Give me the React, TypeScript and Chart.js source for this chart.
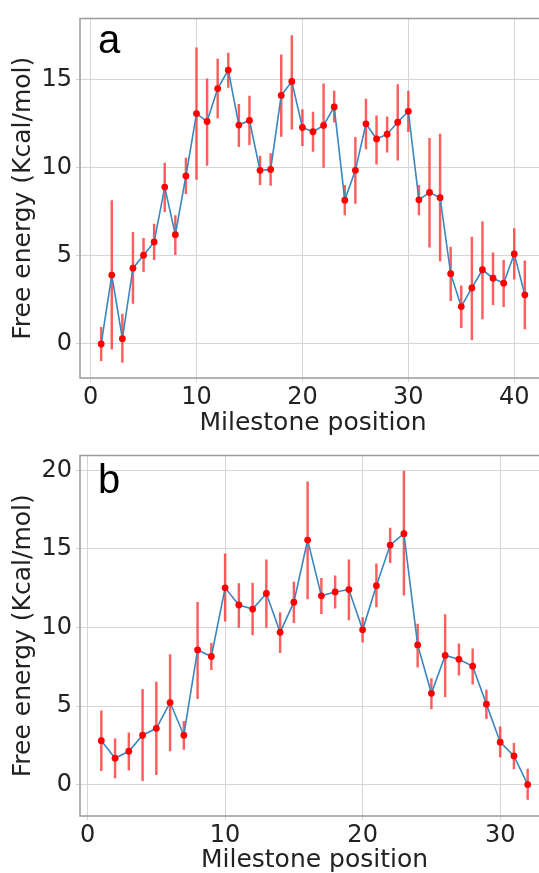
import React, { useEffect, useRef } from "react";
import { Chart, registerables } from "chart.js";

Chart.register(...registerables);

// Panel a
const milestonesA = [1,2,3,4,5,6,7,8,9,10,11,12,13,14,15,16,17,18,19,20,21,22,23,24,25,26,27,28,29,30,31,32,33,34,35,36,37,38,39,40,41];
const energyA = [0,3.91,0.3,4.3,5.04,5.79,8.9,6.2,9.53,13.07,12.62,14.49,15.54,12.42,12.68,9.85,9.9,14.1,14.89,12.28,12.04,12.4,13.45,8.16,9.85,12.49,11.63,11.9,12.58,13.2,8.18,8.6,8.3,3.99,2.12,3.18,4.21,3.73,3.45,5.11,2.79];
const lowA = [-0.95,-0.3,-1.05,2.3,4.1,4.78,7.5,5.07,8.52,9.34,10.13,12.83,14.55,11.2,11.31,9.04,9.0,11.78,12.19,11.25,10.92,10.02,12.6,7.32,7.98,11.07,10.2,10.88,10.43,12.04,7.32,5.49,4.7,2.45,0.92,0.24,1.42,2.23,2.12,3.67,0.86];
const highA = [0.95,8.13,1.7,6.33,6.0,6.8,10.26,7.28,10.54,16.8,15.04,16.16,16.5,13.6,14.06,10.66,10.8,16.4,17.5,13.3,13.15,14.76,14.34,9.0,11.72,13.9,12.94,12.88,14.72,14.34,9.0,11.67,11.91,5.49,3.3,6.07,6.95,5.17,4.74,6.54,4.72];
const xTicksA = [0,10,20,30,40];
const yTicksA = [0,5,10,15];

// Panel b
const milestonesB = [1,2,3,4,5,6,7,8,9,10,11,12,13,14,15,16,17,18,19,20,21,22,23,24,25,26,27,28,29,30,31,32];
const energyB = [2.79,1.68,2.12,3.14,3.58,5.22,3.14,8.57,8.15,12.52,11.43,11.17,12.16,9.69,11.61,15.56,12.01,12.26,12.41,9.85,12.66,15.24,15.97,8.89,5.81,8.22,7.97,7.53,5.12,2.7,1.82,0];
const lowB = [0.88,0.42,0.92,0.25,0.63,2.14,2.24,5.47,7.32,10.4,10.0,9.52,10.0,8.39,10.31,11.82,10.88,11.22,10.48,9.06,11.3,14.13,12.05,7.48,4.82,5.6,6.96,6.39,4.19,1.76,0.99,-0.94];
const highB = [4.7,2.91,3.29,6.06,6.52,8.28,4.03,11.6,8.99,14.68,12.79,12.83,14.3,10.94,12.89,19.27,13.12,13.29,14.3,10.63,14.05,16.33,19.96,10.21,6.75,10.82,8.95,8.64,6.02,3.67,2.62,0.99];
const xTicksB = [0,10,20,30];
const yTicksB = [0,5,10,15,20];

const xTitle = "Milestone position";
const yTitle = "Free energy (Kcal/mol)";

const FONT = "'DejaVu Sans', sans-serif";
const GRID = "#d6d6d6";

type PanelProps = {
  label: string;
  xs: number[];
  ys: number[];
  lo: number[];
  hi: number[];
  xTicks: number[];
  yTicks: number[];
  xMin: number;
  xMax: number;
  yMin: number;
  yMax: number;
  top: number;
  padTop: number;
  padRight: number;
  axisH: number;
  labelBaseline: number;
};

const W = 560;
const H = 437;

function Panel(p: PanelProps) {
  const ref = useRef<HTMLCanvasElement>(null);
  useEffect(() => {
    if (!ref.current) return;
    const frame = {
      id: "frame",
      afterDraw(chart: any) {
        const { ctx, chartArea } = chart;
        const { left, top, right, bottom } = chartArea;
        ctx.save();
        ctx.strokeStyle = "#9a9a9a";
        ctx.lineWidth = 1.5;
        ctx.beginPath();
        ctx.moveTo(right, top);
        ctx.lineTo(left, top);
        ctx.lineTo(left, bottom);
        ctx.lineTo(right, bottom);
        ctx.stroke();
        ctx.fillStyle = "#000";
        ctx.font = "40px 'Liberation Sans', Arial, sans-serif";
        ctx.textBaseline = "alphabetic";
        ctx.textAlign = "left";
        ctx.fillText(p.label, left + 18, p.labelBaseline);
        ctx.restore();
      },
    };
    const chart = new Chart(ref.current, {
      type: "line",
      data: {
        datasets: [
          {
            type: "line",
            data: p.xs.map((x, i) => ({ x, y: p.ys[i] })),
            borderColor: "#3a86c0",
            borderWidth: 1.6,
            pointRadius: 3.4,
            pointBackgroundColor: "#ff0000",
            pointBorderColor: "#ff0000",
            pointBorderWidth: 0,
            tension: 0,
          },
          {
            type: "bar",
            data: p.xs.map((x, i) => ({ x, y: [p.lo[i], p.hi[i]] })) as any,
            backgroundColor: "rgba(255,40,40,0.75)",
            borderWidth: 0,
            barThickness: 1.8,
            grouped: false,
          } as any,
        ],
      },
      options: {
        animation: false,
        responsive: false,
        layout: { padding: { top: p.padTop, right: p.padRight, left: 0, bottom: 0 } },
        plugins: { legend: { display: false }, tooltip: { enabled: false } },
        scales: {
          x: {
            type: "linear",
            offset: false,
            min: p.xMin,
            max: p.xMax,
            afterBuildTicks: (s: any) => {
              s.ticks = p.xTicks.map((v) => ({ value: v }));
            },
            afterFit: (s: any) => {
              s.height = p.axisH;
            },
            grid: { color: GRID, lineWidth: 1, tickLength: 4, tickColor: GRID, offset: false },
            border: { display: false },
            ticks: { color: "#222", font: { family: FONT, size: 24 }, padding: 1, maxRotation: 0, autoSkip: false },
            title: {
              display: true,
              text: xTitle,
              color: "#222",
              font: { family: FONT, size: 25, lineHeight: 1 },
              padding: { top: 0, bottom: 1 },
            },
          },
          y: {
            type: "linear",
            min: p.yMin,
            max: p.yMax,
            afterBuildTicks: (s: any) => {
              s.ticks = p.yTicks.map((v) => ({ value: v }));
            },
            afterFit: (s: any) => {
              s.width = 80;
            },
            grid: { color: GRID, lineWidth: 1, tickLength: 4, tickColor: GRID, offset: false },
            border: { display: false },
            ticks: { color: "#222", font: { family: FONT, size: 24 }, padding: 4, autoSkip: false },
            title: {
              display: true,
              text: yTitle,
              color: "#222",
              font: { family: FONT, size: 25, lineHeight: 1 },
              padding: { top: 11, bottom: 0 },
            },
          },
        },
      },
      plugins: [frame],
    });
    return () => chart.destroy();
  }, []);
  return (
    <canvas
      ref={ref}
      width={W}
      height={H}
      style={{ position: "absolute", left: 0, top: p.top, width: W, height: H, display: "block" }}
    />
  );
}

export default function App() {
  return (
    <div
      style={{
        position: "absolute",
        left: 0,
        top: 0,
        width: 539,
        height: 873,
        overflow: "hidden",
        background: "#fff",
      }}
    >
      <Panel
        label="a"
        xs={milestonesA}
        ys={energyA}
        lo={lowA}
        hi={highA}
        xTicks={xTicksA}
        yTicks={yTicksA}
        xMin={-1}
        xMax={43}
        yMin={-1.93}
        yMax={18.47}
        top={0}
        padTop={15}
        padRight={W - 546}
        axisH={59}
        labelBaseline={53}
      />
      <Panel
        label="b"
        xs={milestonesB}
        ys={energyB}
        lo={lowB}
        hi={highB}
        xTicks={xTicksB}
        yTicks={yTicksB}
        xMin={-0.55}
        xMax={33.55}
        yMin={-2.0}
        yMax={20.95}
        top={437}
        padTop={14}
        padRight={W - 549}
        axisH={58}
        labelBaseline={56}
      />
    </div>
  );
}
